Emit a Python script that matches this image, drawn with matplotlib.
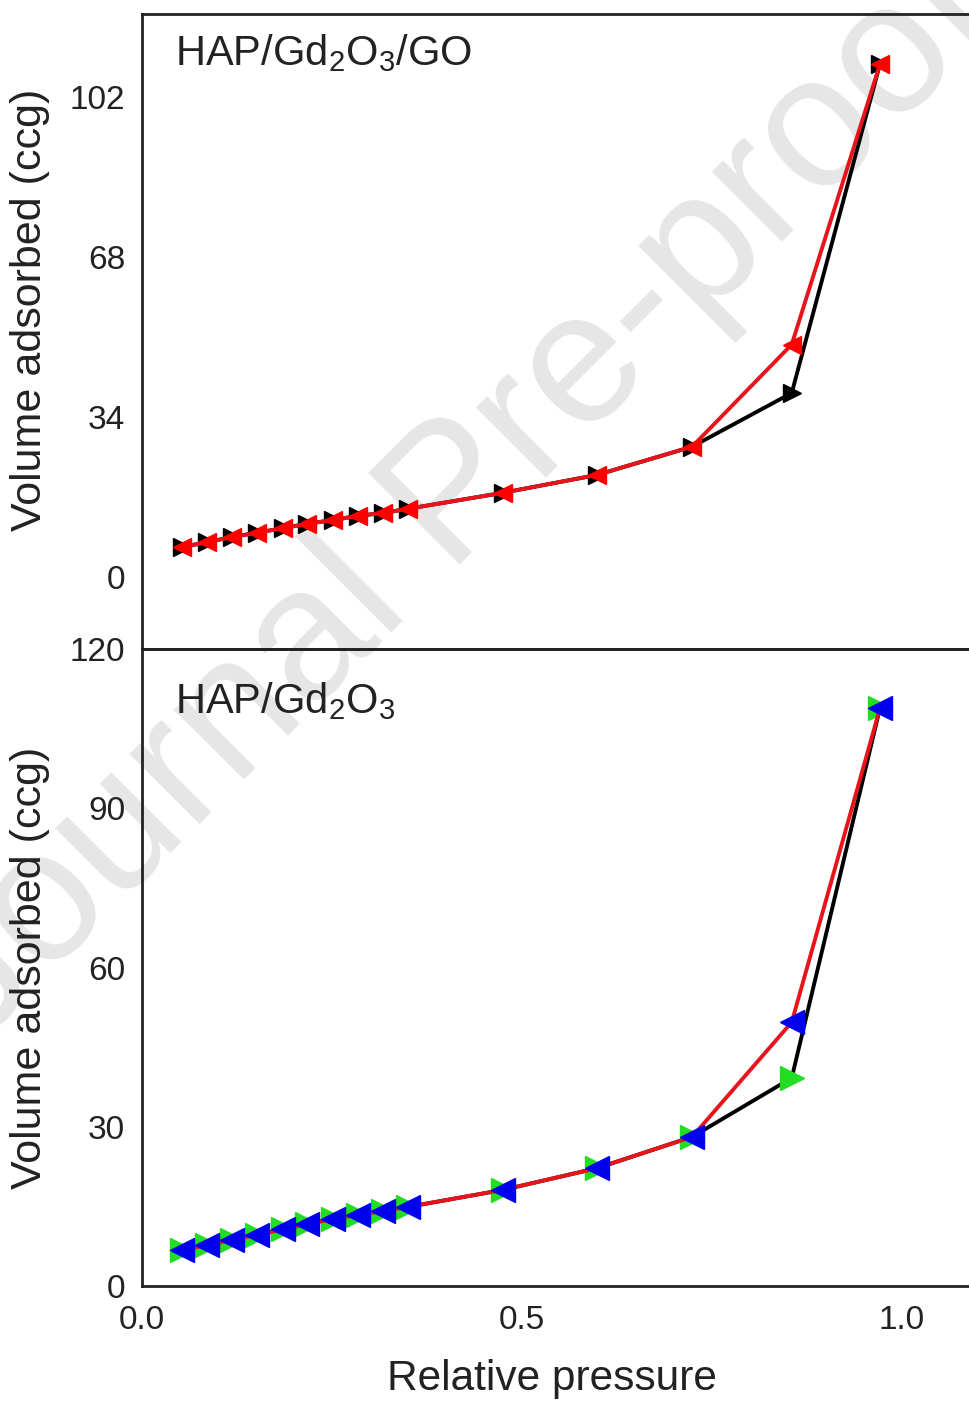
import matplotlib
matplotlib.use("Agg")
import matplotlib.pyplot as plt

plt.rcParams["font.family"] = ["Liberation Sans", "DejaVu Sans"]
plt.rcParams["mathtext.fontset"] = "custom"
plt.rcParams["mathtext.rm"] = "Liberation Sans"
plt.rcParams["mathtext.it"] = "Liberation Sans:italic"
plt.rcParams["mathtext.bf"] = "Liberation Sans:bold"

# HAP/Gd2O3/GO isotherm
GO_P_ADS = [0.053, 0.086, 0.118, 0.151, 0.186, 0.217, 0.251, 0.284, 0.317, 0.350, 0.475, 0.599, 0.724, 0.855, 0.971]
GO_V_ADS = [6.4, 7.4, 8.5, 9.4, 10.4, 11.3, 12.1, 13.0, 13.6, 14.5, 17.9, 21.7, 27.7, 39.1, 108.9]
GO_P_DES = [0.971, 0.855, 0.724, 0.599, 0.475, 0.350, 0.317, 0.284, 0.251, 0.217, 0.186, 0.151, 0.118, 0.086, 0.053]
GO_V_DES = [108.9, 49.4, 27.7, 21.7, 17.9, 14.5, 13.6, 13.0, 12.1, 11.3, 10.4, 9.4, 8.5, 7.4, 6.4]

# HAP/Gd2O3 isotherm
HG_P_ADS = [0.053, 0.086, 0.118, 0.151, 0.186, 0.217, 0.251, 0.284, 0.317, 0.350, 0.475, 0.599, 0.724, 0.855, 0.971]
HG_V_ADS = [6.8, 7.7, 8.7, 9.6, 10.7, 11.7, 12.6, 13.4, 14.1, 14.9, 18.1, 22.2, 28.1, 39.2, 108.8]
HG_P_DES = [0.971, 0.855, 0.724, 0.599, 0.475, 0.350, 0.317, 0.284, 0.251, 0.217, 0.186, 0.151, 0.118, 0.086, 0.053]
HG_V_DES = [108.8, 49.7, 28.1, 22.2, 18.1, 14.9, 14.1, 13.4, 12.6, 11.7, 10.7, 9.6, 8.7, 7.7, 6.8]

TOP_TICKS = [0, 34, 68, 102]
BOTTOM_TICKS = [0, 30, 60, 90, 120]
X_TICKS = [0.0, 0.5, 1.0]

RED = "#e8141c"
INK = "#222222"


def style_axis(ax):
    for side in ["top", "bottom", "left", "right"]:
        ax.spines[side].set_linewidth(2.0)
        ax.spines[side].set_color(INK)
    ax.tick_params(length=0, labelsize=24, colors=INK, pad=12)
    ax.set_xlim(0, 1.1)


fig = plt.figure(figsize=(9.69, 14.07), dpi=100)

# watermark behind everything
fig.text(0.47, 0.645, "Journal Pre-proof", fontsize=135, color="#e6e6e6",
         rotation=45, ha="center", va="center", zorder=-1)

ax_top = fig.add_axes([0.1465, 0.5387, 0.8627, 0.4513])
ax_bot = fig.add_axes([0.1465, 0.0860, 0.8627, 0.4527])
for ax in (ax_top, ax_bot):
    ax.patch.set_alpha(0)

# top panel
ax_top.plot(GO_P_ADS, GO_V_ADS, color="black", lw=2.8, marker=">", ms=13,
            mfc="black", mec="black", zorder=3)
ax_top.plot(GO_P_DES, GO_V_DES, color=RED, lw=2.8, marker="<", ms=13,
            mfc="#ff0000", mec="#ff0000", zorder=4)
ax_top.set_ylim(-15.3, 119.6)
ax_top.set_yticks(TOP_TICKS)
ax_top.set_xticks(X_TICKS)
ax_top.tick_params(labelbottom=False)
style_axis(ax_top)
ax_top.set_ylabel("Volume adsorbed (ccg)", fontsize=31, color=INK)
ax_top.yaxis.set_label_coords(-0.11, 0.534)
ax_top.text(0.039, 0.92, "HAP/Gd$_2$O$_3$/GO", transform=ax_top.transAxes,
            fontsize=30, va="baseline", ha="left", color=INK)

# bottom panel
ax_bot.plot(HG_P_ADS, HG_V_ADS, color="black", lw=2.8, marker=">", ms=17,
            mfc="#22dd22", mec="#22dd22", zorder=3)
ax_bot.plot(HG_P_DES, HG_V_DES, color=RED, lw=2.8, marker="<", ms=17,
            mfc="#0000ee", mec="#0000ee", zorder=4)
ax_bot.set_ylim(0, 120)
ax_bot.set_yticks(BOTTOM_TICKS)
ax_bot.set_xticks(X_TICKS, [f"{t:.1f}" for t in X_TICKS])
style_axis(ax_bot)
ax_bot.tick_params(axis="x", pad=14)
ax_bot.set_ylabel("Volume adsorbed (ccg)", fontsize=31, color=INK)
ax_bot.yaxis.set_label_coords(-0.11, 0.5)
ax_bot.set_xlabel("Relative pressure", fontsize=30.5, color=INK)
ax_bot.xaxis.set_label_coords(0.49, -0.115)
ax_bot.text(0.039, 0.90, "HAP/Gd$_2$O$_3$", transform=ax_bot.transAxes,
            fontsize=30, va="baseline", ha="left", color=INK)

fig.savefig("out.png", dpi=100)
